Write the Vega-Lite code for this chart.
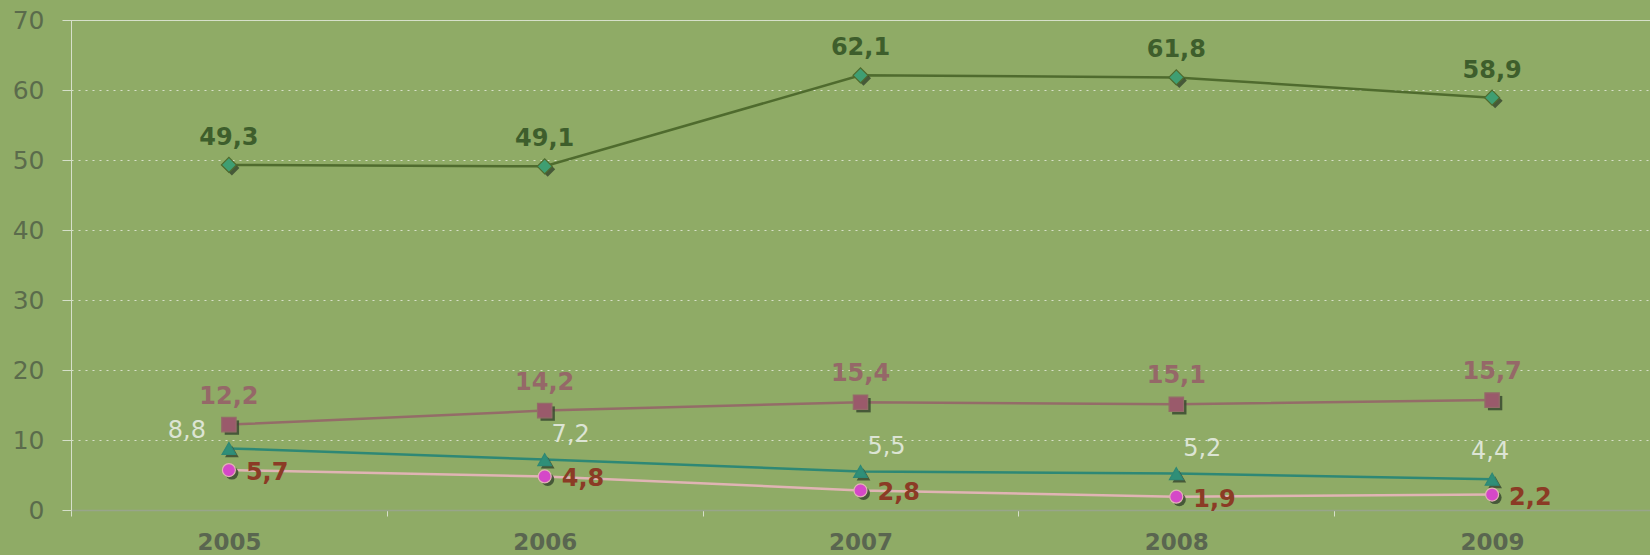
{
  "$schema": "https://vega.github.io/schema/vega-lite/v6.json",
  "width": 1579,
  "height": 490,
  "autosize": {"type": "none"},
  "padding": {"left": 71, "top": 20, "right": 0, "bottom": 45},
  "background": "#8FAB66",
  "config": {
    "locale": {"number": {"decimal": ",", "thousands": ".", "grouping": [3], "currency": ["", " €"]}},
    "view": {"stroke": "#D6DFCA", "strokeWidth": 1},
    "font": "DejaVu Sans"
  },
  "data": {
    "values": [
      {"year": "2005", "series": "s1", "value": 49.3},
      {"year": "2006", "series": "s1", "value": 49.1},
      {"year": "2007", "series": "s1", "value": 62.1},
      {"year": "2008", "series": "s1", "value": 61.8},
      {"year": "2009", "series": "s1", "value": 58.9},
      {"year": "2005", "series": "s2", "value": 12.2},
      {"year": "2006", "series": "s2", "value": 14.2},
      {"year": "2007", "series": "s2", "value": 15.4},
      {"year": "2008", "series": "s2", "value": 15.1},
      {"year": "2009", "series": "s2", "value": 15.7},
      {"year": "2005", "series": "s3", "value": 8.8},
      {"year": "2006", "series": "s3", "value": 7.2},
      {"year": "2007", "series": "s3", "value": 5.5},
      {"year": "2008", "series": "s3", "value": 5.2},
      {"year": "2009", "series": "s3", "value": 4.4},
      {"year": "2005", "series": "s4", "value": 5.7},
      {"year": "2006", "series": "s4", "value": 4.8},
      {"year": "2007", "series": "s4", "value": 2.8},
      {"year": "2008", "series": "s4", "value": 1.9},
      {"year": "2009", "series": "s4", "value": 2.2}
    ]
  },
  "encoding": {
    "x": {
      "field": "year",
      "type": "nominal",
      "scale": {"type": "band", "paddingInner": 0, "paddingOuter": 0},
      "axis": {
        "title": null,
        "labelAngle": 0,
        "labelFont": "DejaVu Sans",
        "labelFontSize": 23,
        "labelFontWeight": "bold",
        "labelColor": "#5A6650",
        "labelPadding": 15,
        "tickBand": "extent",
        "tickSize": 6,
        "tickColor": "#D6DFCA",
        "domainColor": "#98A58A",
        "domainWidth": 1.5,
        "grid": false
      }
    },
    "y": {
      "field": "value",
      "type": "quantitative",
      "scale": {"domain": [0, 70], "nice": false},
      "axis": {
        "title": null,
        "values": [0, 10, 20, 30, 40, 50, 60, 70],
        "labelFont": "DejaVu Sans",
        "labelFontSize": 25,
        "labelColor": "#5B6B4C",
        "labelPadding": 18,
        "tickSize": 9,
        "tickColor": "#D6DFCA",
        "domainColor": "#D6DFCA",
        "grid": true,
        "gridColor": "#D8E0CA",
        "gridDash": [2, 5],
        "gridWidth": 1
      }
    }
  },
  "layer": [
    {
      "mark": {"type": "line", "strokeWidth": 2.5},
      "encoding": {
        "stroke": {
          "field": "series",
          "type": "nominal",
          "scale": {"domain": ["s1", "s2", "s3", "s4"], "range": ["#4F6B2E", "#946C68", "#2E8875", "#E0B4B4"]},
          "legend": null
        }
      }
    },
    {
      "mark": {"type": "point", "filled": true, "xOffset": 3, "yOffset": 3, "color": "#3A4A30", "opacity": 0.85},
      "encoding": {
        "shape": {
          "field": "series",
          "type": "nominal",
          "scale": {"domain": ["s1", "s2", "s3", "s4"], "range": ["diamond", "square", "triangle-up", "circle"]},
          "legend": null
        },
        "size": {
          "field": "series",
          "type": "ordinal",
          "scale": {"domain": ["s1", "s2", "s3", "s4"], "range": [225, 169, 175, 121]},
          "legend": null
        }
      }
    },
    {
      "mark": {"type": "point", "filled": true, "opacity": 1, "strokeWidth": 1.2},
      "encoding": {
        "shape": {
          "field": "series",
          "type": "nominal",
          "scale": {"domain": ["s1", "s2", "s3", "s4"], "range": ["diamond", "square", "triangle-up", "circle"]},
          "legend": null
        },
        "size": {
          "field": "series",
          "type": "ordinal",
          "scale": {"domain": ["s1", "s2", "s3", "s4"], "range": [225, 169, 175, 121]},
          "legend": null
        },
        "fill": {
          "field": "series",
          "type": "nominal",
          "scale": {"domain": ["s1", "s2", "s3", "s4"], "range": ["#3F9E72", "#9A5A6B", "#2F8F78", "#D548C8"]},
          "legend": null
        },
        "stroke": {
          "field": "series",
          "type": "nominal",
          "scale": {"domain": ["s1", "s2", "s3", "s4"], "range": ["#5FB58C", "#C9A2AE", "#B8D4C0", "#EAB8D8"]},
          "legend": null
        }
      }
    },
    {
      "transform": [{"filter": "datum.series === 's1'"}],
      "mark": {"type": "text", "dy": -27, "fontSize": 24, "fontWeight": "bold", "color": "#3E5E2C", "align": "center", "baseline": "middle"},
      "encoding": {"text": {"field": "value", "type": "quantitative", "format": ".1f"}}
    },
    {
      "transform": [{"filter": "datum.series === 's2'"}],
      "mark": {"type": "text", "dy": -28, "fontSize": 24, "fontWeight": "bold", "color": "#956868", "align": "center", "baseline": "middle"},
      "encoding": {"text": {"field": "value", "type": "quantitative", "format": ".1f"}}
    },
    {
      "transform": [{"filter": "datum.series === 's3' && datum.year === '2005'"}],
      "mark": {"type": "text", "dx": -23, "dy": -17, "fontSize": 24, "color": "#DCE4D4", "align": "right", "baseline": "middle"},
      "encoding": {"text": {"field": "value", "type": "quantitative", "format": ".1f"}}
    },
    {
      "transform": [{"filter": "datum.series === 's3' && datum.year !== '2005' && datum.year !== '2009'"}],
      "mark": {"type": "text", "dx": 26, "dy": -25, "fontSize": 24, "color": "#DCE4D4", "align": "center", "baseline": "middle"},
      "encoding": {"text": {"field": "value", "type": "quantitative", "format": ".1f"}}
    },
    {
      "transform": [{"filter": "datum.series === 's3' && datum.year === '2009'"}],
      "mark": {"type": "text", "dx": -2, "dy": -27, "fontSize": 24, "color": "#DCE4D4", "align": "center", "baseline": "middle"},
      "encoding": {"text": {"field": "value", "type": "quantitative", "format": ".1f"}}
    },
    {
      "transform": [{"filter": "datum.series === 's4'"}],
      "mark": {"type": "text", "dx": 17, "dy": 3, "fontSize": 24, "fontWeight": "bold", "color": "#8B3B25", "align": "left", "baseline": "middle"},
      "encoding": {"text": {"field": "value", "type": "quantitative", "format": ".1f"}}
    }
  ]
}
